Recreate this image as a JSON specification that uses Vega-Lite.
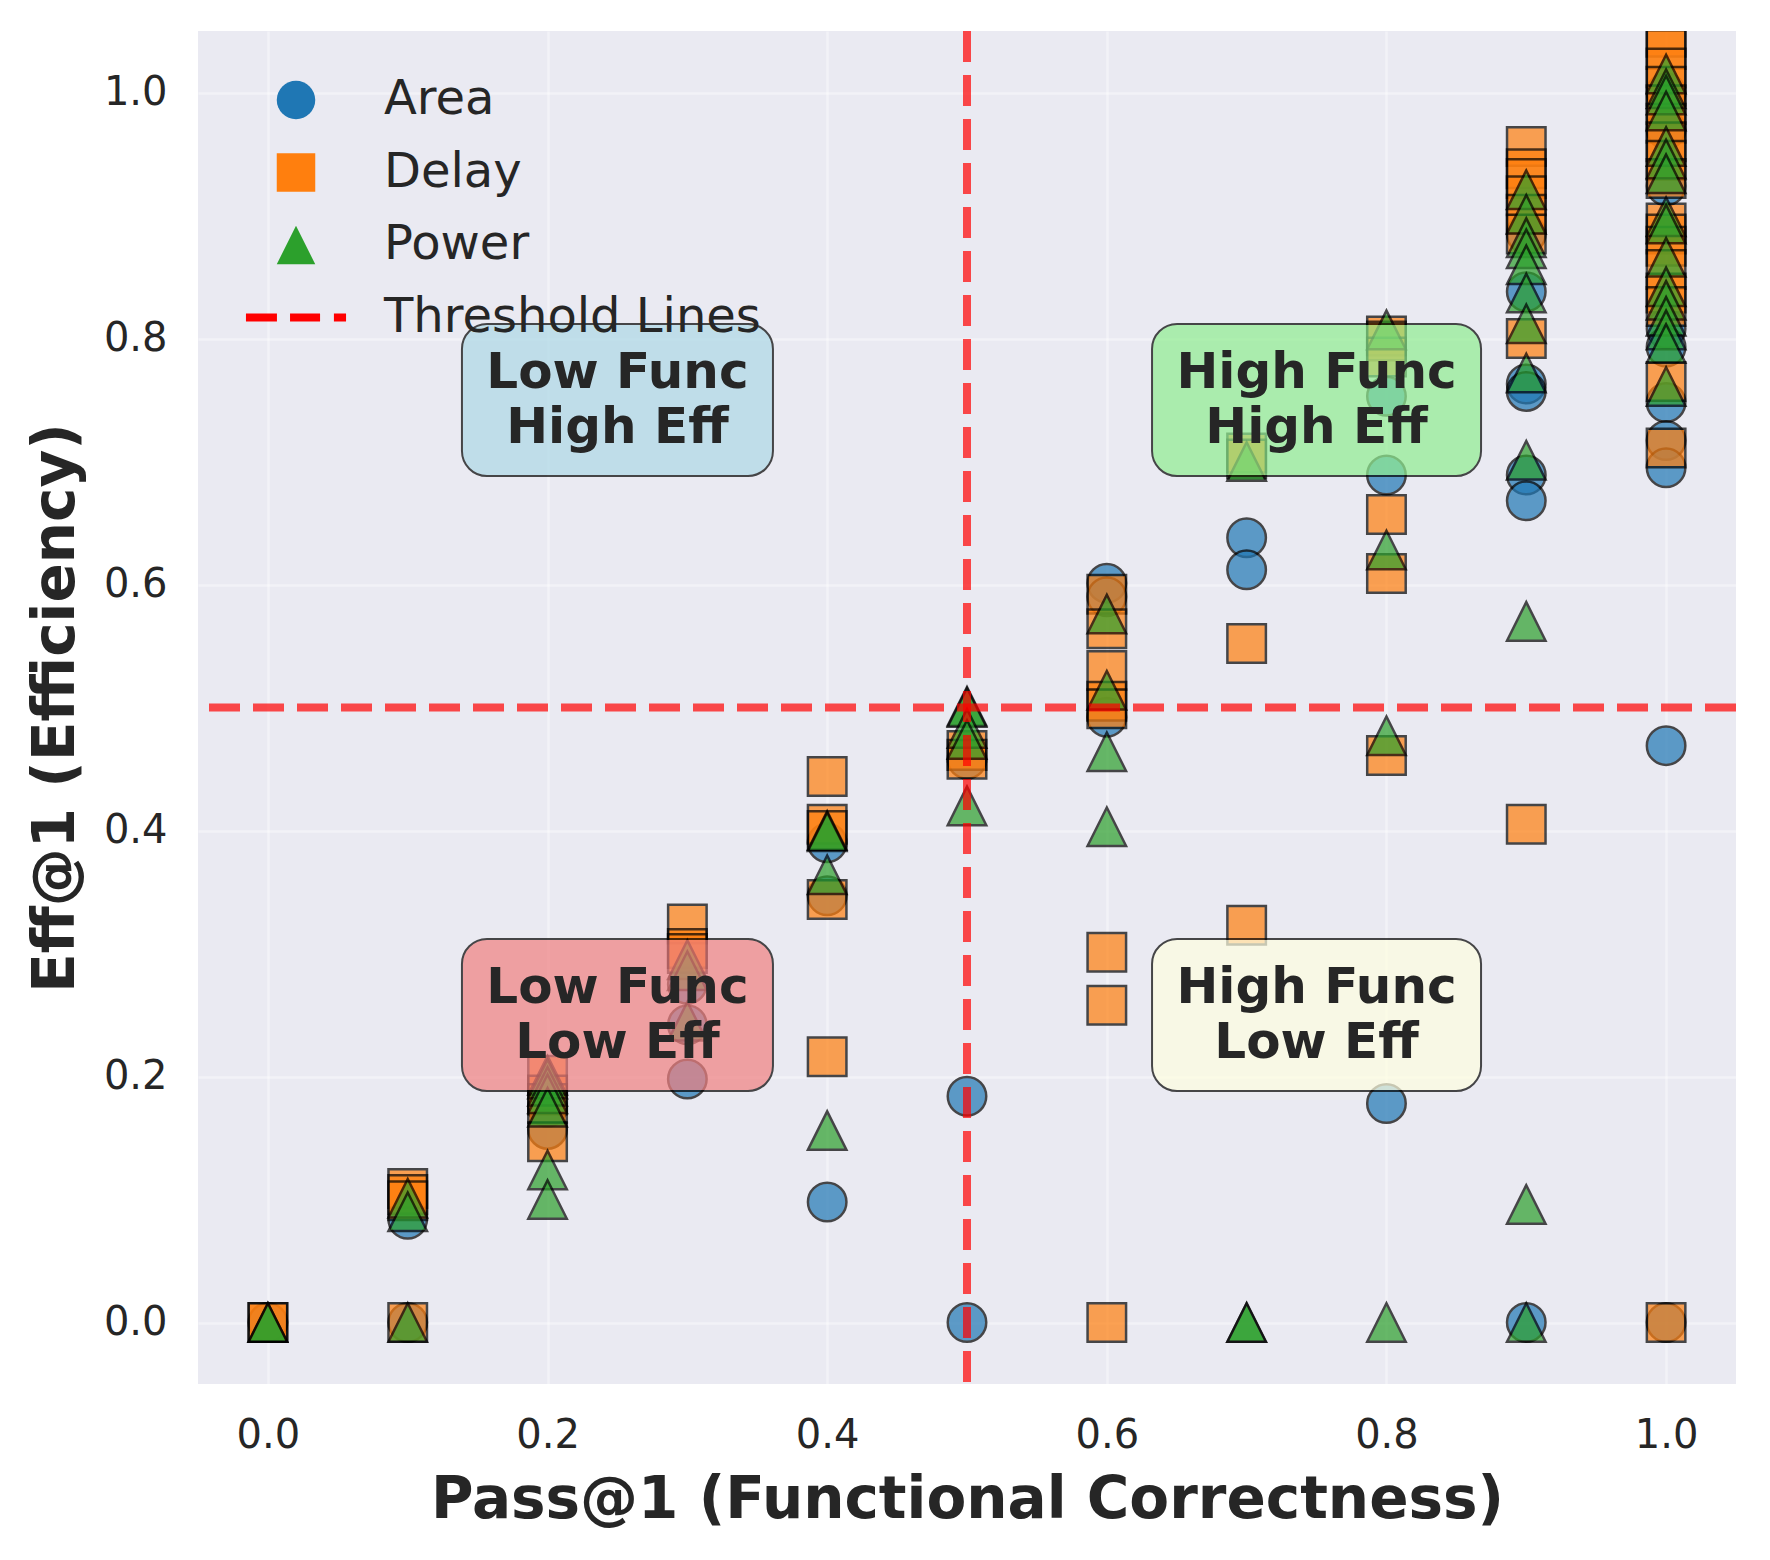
{
  "$schema": "https://vega.github.io/schema/vega-lite/v6.json",
  "width": 1538,
  "height": 1353,
  "autosize": {"type": "none"},
  "padding": {"left": 198, "top": 31, "right": 34, "bottom": 176},
  "background": "white",
  "config": {
    "view": {"fill": "#EAEAF2", "stroke": null},
    "font": "DejaVu Sans",
    "axis": {
      "labelFont": "DejaVu Sans", "labelFontSize": 40, "labelColor": "#262626",
      "titleFont": "DejaVu Sans", "titleFontSize": 58, "titleFontWeight": "bold", "titleColor": "#262626",
      "ticks": false, "tickSize": 0, "domain": false,
      "gridColor": "#ffffff", "gridOpacity": 0.4, "gridWidth": 2.5
    }
  },
  "datasets": {
    "pts": [
      {"p": 0.0, "e": 0.0, "m": "Area"},
      {"p": 0.1, "e": 0.084, "m": "Area"},
      {"p": 0.1, "e": 0.0, "m": "Area"},
      {"p": 0.2, "e": 0.175, "m": "Area"},
      {"p": 0.2, "e": 0.157, "m": "Area"},
      {"p": 0.3, "e": 0.275, "m": "Area"},
      {"p": 0.3, "e": 0.242, "m": "Area"},
      {"p": 0.3, "e": 0.198, "m": "Area"},
      {"p": 0.4, "e": 0.39, "m": "Area"},
      {"p": 0.4, "e": 0.347, "m": "Area"},
      {"p": 0.4, "e": 0.098, "m": "Area"},
      {"p": 0.5, "e": 0.458, "m": "Area"},
      {"p": 0.5, "e": 0.184, "m": "Area"},
      {"p": 0.5, "e": 0.0, "m": "Area"},
      {"p": 0.6, "e": 0.601, "m": "Area"},
      {"p": 0.6, "e": 0.59, "m": "Area"},
      {"p": 0.6, "e": 0.492, "m": "Area"},
      {"p": 0.7, "e": 0.638, "m": "Area"},
      {"p": 0.7, "e": 0.612, "m": "Area"},
      {"p": 0.8, "e": 0.753, "m": "Area"},
      {"p": 0.8, "e": 0.689, "m": "Area"},
      {"p": 0.8, "e": 0.178, "m": "Area"},
      {"p": 0.9, "e": 0.885, "m": "Area"},
      {"p": 0.9, "e": 0.838, "m": "Area"},
      {"p": 0.9, "e": 0.763, "m": "Area"},
      {"p": 0.9, "e": 0.757, "m": "Area"},
      {"p": 0.9, "e": 0.689, "m": "Area"},
      {"p": 0.9, "e": 0.668, "m": "Area"},
      {"p": 0.9, "e": 0.0, "m": "Area"},
      {"p": 1.0, "e": 1.0, "m": "Area"},
      {"p": 1.0, "e": 0.97, "m": "Area"},
      {"p": 1.0, "e": 0.924, "m": "Area"},
      {"p": 1.0, "e": 0.808, "m": "Area"},
      {"p": 1.0, "e": 0.793, "m": "Area"},
      {"p": 1.0, "e": 0.748, "m": "Area"},
      {"p": 1.0, "e": 0.717, "m": "Area"},
      {"p": 1.0, "e": 0.695, "m": "Area"},
      {"p": 1.0, "e": 0.469, "m": "Area"},
      {"p": 1.0, "e": 0.0, "m": "Area"},

      {"p": 0.0, "e": 0.0, "m": "Delay"},
      {"p": 0.0, "e": 0.0, "m": "Delay"},
      {"p": 0.1, "e": 0.109, "m": "Delay"},
      {"p": 0.1, "e": 0.104, "m": "Delay"},
      {"p": 0.1, "e": 0.099, "m": "Delay"},
      {"p": 0.1, "e": 0.0, "m": "Delay"},
      {"p": 0.2, "e": 0.201, "m": "Delay"},
      {"p": 0.2, "e": 0.185, "m": "Delay"},
      {"p": 0.2, "e": 0.178, "m": "Delay"},
      {"p": 0.2, "e": 0.147, "m": "Delay"},
      {"p": 0.3, "e": 0.324, "m": "Delay"},
      {"p": 0.3, "e": 0.304, "m": "Delay"},
      {"p": 0.3, "e": 0.3, "m": "Delay"},
      {"p": 0.4, "e": 0.444, "m": "Delay"},
      {"p": 0.4, "e": 0.405, "m": "Delay"},
      {"p": 0.4, "e": 0.4, "m": "Delay"},
      {"p": 0.4, "e": 0.344, "m": "Delay"},
      {"p": 0.4, "e": 0.216, "m": "Delay"},
      {"p": 0.5, "e": 0.465, "m": "Delay"},
      {"p": 0.5, "e": 0.458, "m": "Delay"},
      {"p": 0.6, "e": 0.592, "m": "Delay"},
      {"p": 0.6, "e": 0.564, "m": "Delay"},
      {"p": 0.6, "e": 0.53, "m": "Delay"},
      {"p": 0.6, "e": 0.505, "m": "Delay"},
      {"p": 0.6, "e": 0.499, "m": "Delay"},
      {"p": 0.6, "e": 0.301, "m": "Delay"},
      {"p": 0.6, "e": 0.258, "m": "Delay"},
      {"p": 0.6, "e": 0.0, "m": "Delay"},
      {"p": 0.7, "e": 0.707, "m": "Delay"},
      {"p": 0.7, "e": 0.702, "m": "Delay"},
      {"p": 0.7, "e": 0.552, "m": "Delay"},
      {"p": 0.7, "e": 0.323, "m": "Delay"},
      {"p": 0.8, "e": 0.802, "m": "Delay"},
      {"p": 0.8, "e": 0.798, "m": "Delay"},
      {"p": 0.8, "e": 0.785, "m": "Delay"},
      {"p": 0.8, "e": 0.657, "m": "Delay"},
      {"p": 0.8, "e": 0.609, "m": "Delay"},
      {"p": 0.8, "e": 0.461, "m": "Delay"},
      {"p": 0.9, "e": 0.956, "m": "Delay"},
      {"p": 0.9, "e": 0.938, "m": "Delay"},
      {"p": 0.9, "e": 0.93, "m": "Delay"},
      {"p": 0.9, "e": 0.916, "m": "Delay"},
      {"p": 0.9, "e": 0.901, "m": "Delay"},
      {"p": 0.9, "e": 0.885, "m": "Delay"},
      {"p": 0.9, "e": 0.8, "m": "Delay"},
      {"p": 0.9, "e": 0.405, "m": "Delay"},
      {"p": 1.0, "e": 1.045, "m": "Delay"},
      {"p": 1.0, "e": 1.035, "m": "Delay"},
      {"p": 1.0, "e": 1.02, "m": "Delay"},
      {"p": 1.0, "e": 1.005, "m": "Delay"},
      {"p": 1.0, "e": 0.99, "m": "Delay"},
      {"p": 1.0, "e": 0.975, "m": "Delay"},
      {"p": 1.0, "e": 0.96, "m": "Delay"},
      {"p": 1.0, "e": 0.945, "m": "Delay"},
      {"p": 1.0, "e": 0.93, "m": "Delay"},
      {"p": 1.0, "e": 0.894, "m": "Delay"},
      {"p": 1.0, "e": 0.885, "m": "Delay"},
      {"p": 1.0, "e": 0.875, "m": "Delay"},
      {"p": 1.0, "e": 0.856, "m": "Delay"},
      {"p": 1.0, "e": 0.837, "m": "Delay"},
      {"p": 1.0, "e": 0.826, "m": "Delay"},
      {"p": 1.0, "e": 0.765, "m": "Delay"},
      {"p": 1.0, "e": 0.711, "m": "Delay"},
      {"p": 1.0, "e": 0.0, "m": "Delay"},

      {"p": 0.0, "e": 0.0, "m": "Power"},
      {"p": 0.0, "e": 0.0, "m": "Power"},
      {"p": 0.1, "e": 0.101, "m": "Power"},
      {"p": 0.1, "e": 0.09, "m": "Power"},
      {"p": 0.1, "e": 0.0, "m": "Power"},
      {"p": 0.2, "e": 0.201, "m": "Power"},
      {"p": 0.2, "e": 0.198, "m": "Power"},
      {"p": 0.2, "e": 0.192, "m": "Power"},
      {"p": 0.2, "e": 0.186, "m": "Power"},
      {"p": 0.2, "e": 0.175, "m": "Power"},
      {"p": 0.2, "e": 0.124, "m": "Power"},
      {"p": 0.2, "e": 0.1, "m": "Power"},
      {"p": 0.3, "e": 0.295, "m": "Power"},
      {"p": 0.3, "e": 0.286, "m": "Power"},
      {"p": 0.3, "e": 0.245, "m": "Power"},
      {"p": 0.4, "e": 0.4, "m": "Power"},
      {"p": 0.4, "e": 0.399, "m": "Power"},
      {"p": 0.4, "e": 0.364, "m": "Power"},
      {"p": 0.4, "e": 0.156, "m": "Power"},
      {"p": 0.5, "e": 0.501, "m": "Power"},
      {"p": 0.5, "e": 0.5, "m": "Power"},
      {"p": 0.5, "e": 0.483, "m": "Power"},
      {"p": 0.5, "e": 0.474, "m": "Power"},
      {"p": 0.5, "e": 0.42, "m": "Power"},
      {"p": 0.6, "e": 0.576, "m": "Power"},
      {"p": 0.6, "e": 0.514, "m": "Power"},
      {"p": 0.6, "e": 0.464, "m": "Power"},
      {"p": 0.6, "e": 0.403, "m": "Power"},
      {"p": 0.7, "e": 0.7, "m": "Power"},
      {"p": 0.7, "e": 0.0, "m": "Power"},
      {"p": 0.7, "e": 0.0, "m": "Power"},
      {"p": 0.8, "e": 0.807, "m": "Power"},
      {"p": 0.8, "e": 0.628, "m": "Power"},
      {"p": 0.8, "e": 0.477, "m": "Power"},
      {"p": 0.8, "e": 0.0, "m": "Power"},
      {"p": 0.9, "e": 0.921, "m": "Power"},
      {"p": 0.9, "e": 0.901, "m": "Power"},
      {"p": 0.9, "e": 0.882, "m": "Power"},
      {"p": 0.9, "e": 0.873, "m": "Power"},
      {"p": 0.9, "e": 0.86, "m": "Power"},
      {"p": 0.9, "e": 0.837, "m": "Power"},
      {"p": 0.9, "e": 0.812, "m": "Power"},
      {"p": 0.9, "e": 0.772, "m": "Power"},
      {"p": 0.9, "e": 0.701, "m": "Power"},
      {"p": 0.9, "e": 0.57, "m": "Power"},
      {"p": 0.9, "e": 0.096, "m": "Power"},
      {"p": 0.9, "e": 0.0, "m": "Power"},
      {"p": 1.0, "e": 1.015, "m": "Power"},
      {"p": 1.0, "e": 1.003, "m": "Power"},
      {"p": 1.0, "e": 0.998, "m": "Power"},
      {"p": 1.0, "e": 0.985, "m": "Power"},
      {"p": 1.0, "e": 0.956, "m": "Power"},
      {"p": 1.0, "e": 0.946, "m": "Power"},
      {"p": 1.0, "e": 0.934, "m": "Power"},
      {"p": 1.0, "e": 0.899, "m": "Power"},
      {"p": 1.0, "e": 0.893, "m": "Power"},
      {"p": 1.0, "e": 0.866, "m": "Power"},
      {"p": 1.0, "e": 0.842, "m": "Power"},
      {"p": 1.0, "e": 0.831, "m": "Power"},
      {"p": 1.0, "e": 0.818, "m": "Power"},
      {"p": 1.0, "e": 0.807, "m": "Power"},
      {"p": 1.0, "e": 0.796, "m": "Power"},
      {"p": 1.0, "e": 0.761, "m": "Power"}
    ],
    "quads": [
      {"q": "Low Func High Eff", "func": "Low", "qx": 0.25, "qy": 0.75, "label": ["Low Func", "High Eff"]},
      {"q": "High Func High Eff", "func": "High", "qx": 0.75, "qy": 0.75, "label": ["High Func", "High Eff"]},
      {"q": "Low Func Low Eff", "func": "Low", "qx": 0.25, "qy": 0.25, "label": ["Low Func", "Low Eff"]},
      {"q": "High Func Low Eff", "func": "High", "qx": 0.75, "qy": 0.25, "label": ["High Func", "Low Eff"]}
    ],
    "thr": [{"t": 0.5}]
  },
  "layer": [
    {
      "data": {"name": "pts"},
      "mark": {"type": "point", "filled": true, "size": 1482, "opacity": 0.7, "stroke": "black", "strokeWidth": 2.5, "clip": true},
      "encoding": {
        "x": {"field": "p", "type": "quantitative",
              "scale": {"domain": [-0.05, 1.05], "nice": false, "zero": false},
              "axis": {"values": [0, 0.2, 0.4, 0.6, 0.8, 1.0], "format": ".1f", "labelPadding": 31, "title": "Pass@1 (Functional Correctness)", "titlePadding": 16}},
        "y": {"field": "e", "type": "quantitative",
              "scale": {"domain": [-0.05, 1.05], "nice": false, "zero": false},
              "axis": {"values": [0, 0.2, 0.4, 0.6, 0.8, 1.0], "format": ".1f", "labelPadding": 31, "title": "Eff@1 (Efficiency)", "titlePadding": 18}},
        "color": {"field": "m", "type": "nominal",
                  "scale": {"domain": ["Area", "Delay", "Power", "Threshold Lines"], "range": ["#1f77b4", "#ff7f0e", "#2ca02c", "#ff0000"]},
                  "legend": {"title": null, "orient": "none", "legendX": 74, "legendY": 45, "padding": 0,
                             "symbolSize": 1482, "symbolOpacity": 1, "symbolStrokeWidth": 0,
                             "labelFont": "DejaVu Sans", "labelFontSize": 48, "labelColor": "#262626", "labelLimit": 0,
                             "labelOffset": 64, "rowPadding": 24.5,
                             "encode": {"symbols": {"update": {"opacity": {"value": 1}}}}}},
        "shape": {"field": "m", "type": "nominal",
                  "scale": {"domain": ["Area", "Delay", "Power", "Threshold Lines"], "range": ["circle", "square", "M0,-1L-1,1L1,1Z", "M-2.6,-0.21H-0.99V0.21H-2.6Z M-0.31,-0.21H1.25V0.21H-0.31Z M1.97,-0.21H2.6V0.21H1.97Z"]},
                  "legend": {"title": null, "orient": "none", "legendX": 74, "legendY": 45, "padding": 0,
                             "symbolSize": 1482, "symbolOpacity": 1, "symbolStrokeWidth": 0,
                             "labelFont": "DejaVu Sans", "labelFontSize": 48, "labelColor": "#262626", "labelLimit": 0,
                             "labelOffset": 64, "rowPadding": 24.5,
                             "encode": {"symbols": {"update": {"opacity": {"value": 1}}}}}}
      }
    },
    {
      "data": {"name": "thr"},
      "mark": {"type": "rule", "color": "#ff0000", "opacity": 0.7, "strokeWidth": 8, "strokeDash": [31, 13]},
      "encoding": {"x": {"field": "t", "type": "quantitative"}}
    },
    {
      "data": {"name": "thr"},
      "mark": {"type": "rule", "color": "#ff0000", "opacity": 0.7, "strokeWidth": 8, "strokeDash": [31, 13]},
      "encoding": {"y": {"field": "t", "type": "quantitative"}}
    },
    {
      "data": {"name": "quads"},
      "transform": [{"filter": "datum.func === 'Low'"}],
      "mark": {"type": "rect", "cornerRadius": 25, "opacity": 0.7, "stroke": "black", "strokeWidth": 2,
               "xOffset": -155.5, "x2Offset": 155.5, "yOffset": 76, "y2Offset": -76},
      "encoding": {
        "x": {"field": "qx", "type": "quantitative"},
        "x2": {"field": "qx"},
        "y": {"field": "qy", "type": "quantitative"},
        "y2": {"field": "qy"},
        "fill": {"field": "q", "type": "nominal", "legend": null,
                 "scale": {"domain": ["Low Func High Eff", "High Func High Eff", "Low Func Low Eff", "High Func Low Eff"], "range": ["#ADD8E6", "#90EE90", "#F08080", "#FFFFE0"]}}
      }
    },
    {
      "data": {"name": "quads"},
      "transform": [{"filter": "datum.func === 'High'"}],
      "mark": {"type": "rect", "cornerRadius": 25, "opacity": 0.7, "stroke": "black", "strokeWidth": 2,
               "xOffset": -164.5, "x2Offset": 164.5, "yOffset": 76, "y2Offset": -76},
      "encoding": {
        "x": {"field": "qx", "type": "quantitative"},
        "x2": {"field": "qx"},
        "y": {"field": "qy", "type": "quantitative"},
        "y2": {"field": "qy"},
        "fill": {"field": "q", "type": "nominal", "legend": null,
                 "scale": {"domain": ["Low Func High Eff", "High Func High Eff", "Low Func Low Eff", "High Func Low Eff"], "range": ["#ADD8E6", "#90EE90", "#F08080", "#FFFFE0"]}}
      }
    },
    {
      "data": {"name": "quads"},
      "mark": {"type": "text", "font": "DejaVu Sans", "fontSize": 50, "fontWeight": "bold", "color": "#262626",
               "align": "center", "baseline": "middle", "lineHeight": 55, "dy": -27.5},
      "encoding": {
        "x": {"field": "qx", "type": "quantitative"},
        "y": {"field": "qy", "type": "quantitative"},
        "text": {"field": "label"}
      }
    }
  ]
}
